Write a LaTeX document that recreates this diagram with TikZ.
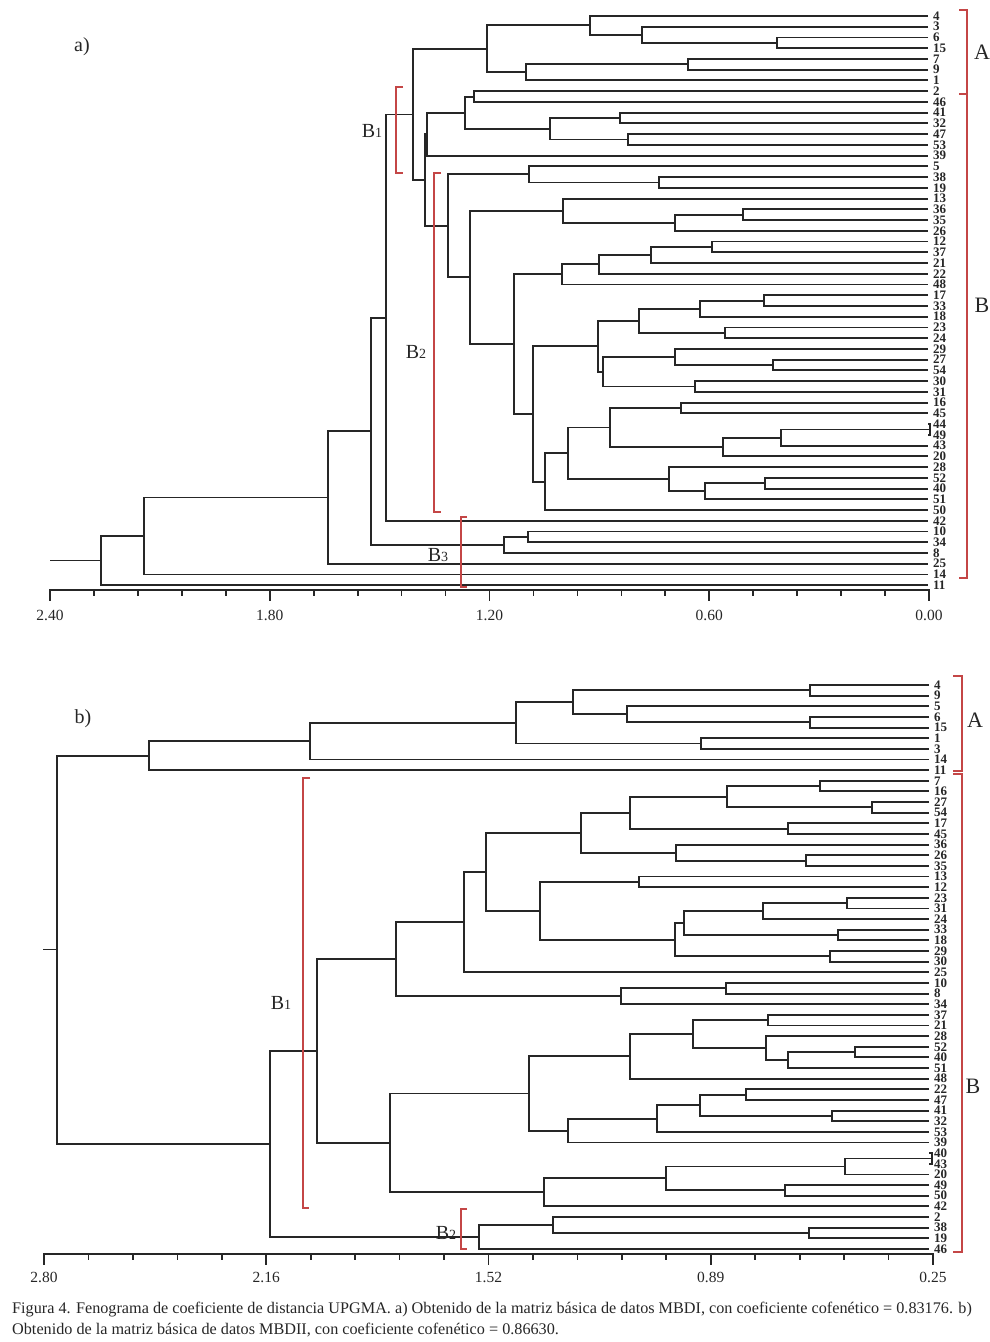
\documentclass[tikz,border=0pt]{standalone}
\usepackage{fontspec}
\setmainfont{Liberation Serif}
\usetikzlibrary{calc}
\definecolor{ink}{RGB}{38,38,38}
\definecolor{brk}{RGB}{196,70,70}

\begin{document}
\begin{tikzpicture}[x=1pt,y=-1pt,
  branch/.style={draw=ink,line width=1.9pt},
  stub/.style={draw=ink,line width=1.3pt},
  axis/.style={draw=ink,line width=2.4pt},
  tick/.style={draw=ink,line width=1.7pt},
  bracket/.style={draw=brk,line width=1.3pt},
  leaf/.style={anchor=west,inner sep=0pt,text=ink,font=\fontsize{13}{12}\selectfont\bfseries},
  scale label/.style={inner sep=0pt,text=ink,font=\fontsize{15.5}{15}\selectfont},
  group/.style={inner sep=0pt,text=ink,font=\fontsize{22}{22}\selectfont},
  sub/.style={inner sep=0pt,text=ink,font=\fontsize{20}{20}\selectfont},
  caption/.style={anchor=west,inner sep=0pt,text=ink,font=\fontsize{16.2}{16}\selectfont}]
\useasboundingbox (0,0) rectangle (990,1342);
\def\clade#1#2#3#4{\path ($(#3)!.5!(#4)$) coordinate (#1m);
  \coordinate (#1) at (#2,0 |- #1m);
  \draw[branch] (#3) -| (#1) |- (#4);}
\def\idx#1{{\fontsize{14}{14}\selectfont #1}}

% a) leaves
\foreach \lab [count=\i] in {4,3,6,15,7,9,1,2,46,41,32,47,53,39,5,38,19,13,36,35,26,12,37,21,22,48,17,33,18,23,24,29,27,54,30,31,16,45,44,49,43,20,28,52,40,51,50,42,10,34,8,25,14,11}{
  \coordinate (a\i) at (928,{16+(\i-1)*10.74});
  \node[leaf] (la\i) at (933,{16+(\i-1)*10.74}) {\lab};
}
% a) clades
\clade{t1}{777}{a3}{a4}
\clade{t2}{642}{a2}{t1}
\clade{t3}{590}{a1}{t2}
\clade{t4}{688}{a5}{a6}
\clade{t5}{526}{t4}{a7}
\clade{t6}{487}{t3}{t5}
\clade{t7}{474}{a8}{a9}
\clade{t8}{620}{a10}{a11}
\clade{t9}{628}{a12}{a13}
\clade{t10}{550}{t8}{t9}
\clade{t11}{465}{t7}{t10}
\clade{t12}{427}{t11}{a14}
\clade{t13}{659}{a16}{a17}
\clade{t14}{529}{a15}{t13}
\clade{t15}{743}{a19}{a20}
\clade{t16}{675}{t15}{a21}
\clade{t17}{563}{a18}{t16}
\clade{t18}{712}{a22}{a23}
\clade{t19}{651}{t18}{a24}
\clade{t20}{599}{t19}{a25}
\clade{t21}{562}{t20}{a26}
\clade{t22}{764}{a27}{a28}
\clade{t23}{700}{t22}{a29}
\clade{t24}{725}{a30}{a31}
\clade{t25}{639}{t23}{t24}
\clade{t26}{773}{a33}{a34}
\clade{t27}{675}{a32}{t26}
\clade{t28}{695}{a35}{a36}
\clade{t29}{603}{t27}{t28}
\clade{t30}{598}{t25}{t29}
\clade{t31}{681}{a37}{a38}
\clade{t32}{930}{a39}{a40}
\clade{t33}{781}{t32}{a41}
\clade{t34}{723}{t33}{a42}
\clade{t35}{610}{t31}{t34}
\clade{t36}{765}{a44}{a45}
\clade{t37}{705}{t36}{a46}
\clade{t38}{669}{a43}{t37}
\clade{t39}{568}{t35}{t38}
\clade{t40}{545}{t39}{a47}
\clade{t41}{533}{t30}{t40}
\clade{t42}{514}{t21}{t41}
\clade{t43}{470}{t17}{t42}
\clade{t44}{448}{t14}{t43}
\clade{t45}{425}{t12}{t44}
\clade{t46}{413}{t6}{t45}
\clade{t47}{386}{t46}{a48}
\clade{t48}{528}{a49}{a50}
\clade{t49}{504}{t48}{a51}
\clade{t50}{371}{t47}{t49}
\clade{t51}{328}{t50}{a52}
\clade{t52}{144}{t51}{a53}
\clade{t53}{101}{t52}{a54}
\coordinate (troot) at (50,0 |- t53);
\draw[stub] (troot) -- (t53);

% a) scale
\draw[axis] (49,590) -- (930,590);
\foreach \k in {0,...,20}{
  \pgfmathsetmacro\len{mod(\k,5)==0 ? 11 : 6}
  \draw[tick] ({50+\k*43.95},590) -- ++(0,\len);
}
\foreach \v [count=\k from 0] in {2.40,1.80,1.20,0.60,0.00}
  \node[scale label] (sa\k) at ({50+\k*219.75},615) {\v};

% a) groups
\node[sub] (pa) at (82,47) {a)};
\draw[bracket] (959,10) -- (967,10) -- (967,578) -- (959,578);
\draw[bracket] (959,94) -- (967,94);
\node[group] (ga) at (982,52) {A};
\node[group] (gb) at (982,305) {B};
\draw[bracket] (403,87) -- (396,87) -- (396,173) -- (403,173);
\draw[bracket] (441,173) -- (434,173) -- (434,512) -- (441,512);
\draw[bracket] (467,517) -- (461,517) -- (461,587) -- (467,587);
\node[sub] (gb1) at (372,131) {B\idx{1}};
\node[sub] (gb2) at (416,352) {B\idx{2}};
\node[sub] (gb3) at (438,555) {B\idx{3}};

% b) leaves
\foreach \lab [count=\i] in {4,9,5,6,15,1,3,14,11,7,16,27,54,17,45,36,26,35,13,12,23,31,24,33,18,29,30,25,10,8,34,37,21,28,52,40,51,48,22,47,41,32,53,39,40,43,20,49,50,42,2,38,19,46}{
  \coordinate (b\i) at (929,{685+(\i-1)*10.64});
  \node[leaf] (lb\i) at (934,{685+(\i-1)*10.64}) {\lab};
}
% b) clades
\clade{u1}{810}{b1}{b2}
\clade{u2}{810}{b4}{b5}
\clade{u3}{627}{b3}{u2}
\clade{u4}{573}{u1}{u3}
\clade{u5}{701}{b6}{b7}
\clade{u6}{516}{u4}{u5}
\clade{u7}{310}{u6}{b8}
\clade{u8}{149}{u7}{b9}
\clade{u9}{820}{b10}{b11}
\clade{u10}{872}{b12}{b13}
\clade{u11}{727}{u9}{u10}
\clade{u12}{788}{b14}{b15}
\clade{u13}{630}{u11}{u12}
\clade{u14}{806}{b17}{b18}
\clade{u15}{676}{b16}{u14}
\clade{u16}{581}{u13}{u15}
\clade{u17}{639}{b19}{b20}
\clade{u18}{847}{b21}{b22}
\clade{u19}{763}{u18}{b23}
\clade{u20}{838}{b24}{b25}
\clade{u21}{684}{u19}{u20}
\clade{u22}{830}{b26}{b27}
\clade{u23}{675}{u21}{u22}
\clade{u24}{540}{u17}{u23}
\clade{u25}{486}{u16}{u24}
\clade{u26}{464}{u25}{b28}
\clade{u27}{726}{b29}{b30}
\clade{u28}{621}{u27}{b31}
\clade{u29}{396}{u26}{u28}
\clade{u30}{768}{b32}{b33}
\clade{u31}{855}{b35}{b36}
\clade{u32}{788}{u31}{b37}
\clade{u33}{766}{b34}{u32}
\clade{u34}{693}{u30}{u33}
\clade{u35}{630}{u34}{b38}
\clade{u36}{746}{b39}{b40}
\clade{u37}{832}{b41}{b42}
\clade{u38}{700}{u36}{u37}
\clade{u39}{657}{u38}{b43}
\clade{u40}{568}{u39}{b44}
\clade{u41}{529}{u35}{u40}
\clade{u42}{932}{b45}{b46}
\clade{u43}{845}{u42}{b47}
\clade{u44}{785}{b48}{b49}
\clade{u45}{666}{u43}{u44}
\clade{u46}{544}{u45}{b50}
\clade{u47}{390}{u41}{u46}
\clade{u48}{317}{u29}{u47}
\clade{u49}{809}{b52}{b53}
\clade{u50}{553}{b51}{u49}
\clade{u51}{479}{u50}{b54}
\clade{u52}{270}{u48}{u51}
\clade{u53}{57}{u8}{u52}
\coordinate (uroot) at (43,0 |- u53);
\draw[stub] (uroot) -- (u53);

% b) scale
\draw[axis] (43,1254) -- (934,1254);
\foreach \k in {0,...,20}{
  \pgfmathsetmacro\len{mod(\k,5)==0 ? 11 : 6}
  \draw[tick] ({44+\k*44.45},1254) -- ++(0,\len);
}
\foreach \v [count=\k from 0] in {2.80,2.16,1.52,0.89,0.25}
  \node[scale label] (sb\k) at ({44+\k*222.25},1277) {\v};

% b) groups
\node[sub] (pb) at (83,719) {b)};
\draw[bracket] (953,676) -- (962,676) -- (962,771) -- (953,771);
\draw[bracket] (953,774) -- (962,774) -- (962,1252) -- (953,1252);
\node[group] (ha) at (975,720) {A};
\node[group] (hb) at (973,1086) {B};
\draw[bracket] (310,778) -- (303,778) -- (303,1208) -- (309,1208);
\draw[bracket] (467,1209) -- (461,1209) -- (461,1249) -- (467,1249);
\node[sub] (hb1) at (281,1003) {B\idx{1}};
\node[sub] (hb2) at (446,1233) {B\idx{2}};

% caption
\node[caption] (cap1) at (12,1310) {Figura 4. Fenograma de coeficiente de distancia UPGMA. a) Obtenido de la matriz básica de datos MBDI, con coeficiente cofenético = 0.83176. b)};
\node[caption] (cap2) at (12,1330) {Obtenido de la matriz básica de datos MBDII, con coeficiente cofenético = 0.86630.};
\end{tikzpicture}
\end{document}
